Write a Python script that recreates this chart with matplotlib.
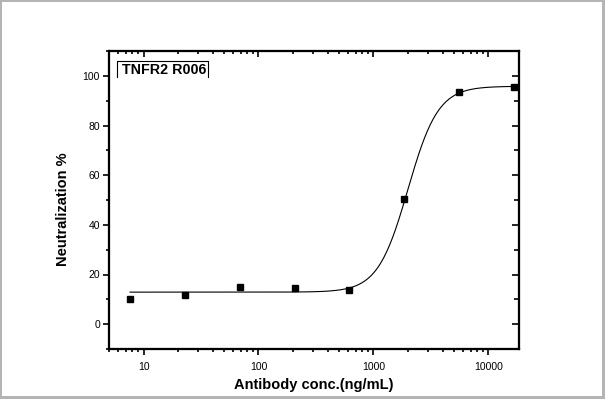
import numpy as np
import matplotlib.pyplot as plt
from matplotlib.patches import Rectangle
from matplotlib.lines import Line2D
from matplotlib.ticker import LogLocator, MultipleLocator, NullFormatter

plt.rcParams['font.family'] = ['Liberation Sans', 'DejaVu Sans']

# measured points (3-fold dilution series)
conc = [7.62, 22.9, 68.6, 206, 617, 1852, 5556, 16667]
neutral = [10.2, 11.7, 14.9, 14.7, 13.9, 50.4, 93.3, 95.7]

# 4PL fit
fit_bottom = 12.9
fit_top = 95.8
fit_ec50 = 2000.0
fit_hill = 3.3

x_ticks = [10, 100, 1000, 10000]
x_tick_labels = ['10', '100', '1000', '10000']
y_ticks = [0, 20, 40, 60, 80, 100]

fig = plt.figure(figsize=(6.05, 3.99), dpi=100)
ax = fig.add_axes([109/605, 1-349/399, 410/605, 298/399])

xc = np.logspace(np.log10(conc[0]), np.log10(conc[-1]), 400)
yc = fit_bottom + (fit_top - fit_bottom) / (1 + (fit_ec50 / xc) ** fit_hill)
ax.plot(xc, yc, color='black', lw=0.8)
ax.plot(conc, neutral, 's', color='black', markersize=4.5)

ax.set_xscale('log')
ax.set_xlim(5, 18500)
ax.set_ylim(-10, 110)
ax.set_xticks(x_ticks)
ax.set_xticklabels(x_tick_labels)
ax.xaxis.set_minor_locator(LogLocator(base=10, subs=np.arange(2, 10)))
ax.xaxis.set_minor_formatter(NullFormatter())
ax.set_yticks(y_ticks)
ax.yaxis.set_minor_locator(MultipleLocator(10))

for s in ax.spines.values():
    s.set_linewidth(1.5)
ax.tick_params(which='major', direction='out', length=4.5, width=1.2,
               labelsize=7.5, top=False, right=False)
ax.tick_params(axis='x', which='major', pad=5)
ax.tick_params(axis='y', which='major', pad=2)
ax.tick_params(which='minor', direction='out', length=2.5, width=1.2,
               top=False, right=False)

# top and right axes with inward ticks
axt = ax.twiny()
axt.set_xscale('log')
axt.set_xlim(ax.get_xlim())
axt.set_xticks(x_ticks)
axt.xaxis.set_minor_locator(LogLocator(base=10, subs=np.arange(2, 10)))
axt.tick_params(which='both', direction='in', labeltop=False, width=1.2)
axt.tick_params(which='major', length=4.5)
axt.tick_params(which='minor', length=2.5)
axt.xaxis.set_minor_formatter(NullFormatter())
axt.xaxis.set_major_formatter(NullFormatter())

axr = ax.twinx()
axr.set_ylim(ax.get_ylim())
axr.set_yticks(y_ticks)
axr.yaxis.set_minor_locator(MultipleLocator(10))
axr.tick_params(which='both', direction='in', labelright=False, width=1.2)
axr.tick_params(which='major', length=5)
axr.tick_params(which='minor', length=3.5)
for a in (axt, axr):
    for s in a.spines.values():
        s.set_linewidth(1.5)

ax.set_xlabel('Antibody conc.(ng/mL)', fontsize=10.5, fontweight='bold', labelpad=4)
ax.set_ylabel('Neutralization %', fontsize=10.5, fontweight='bold')
ax.yaxis.set_label_coords(-0.095, 0.47)

# label box (open at the bottom)
bx = [0.0195, 0.0195, 0.2415, 0.2415]
by = [0.913, 0.966, 0.966, 0.913]
ax.add_line(Line2D(bx, by, transform=ax.transAxes, color='black', lw=0.8))
ax.text(0.031, 0.937, 'TNFR2 R006', transform=ax.transAxes, fontsize=10.3,
        fontweight='bold', va='center', ha='left')

# gray outer frame
g = '#b4b4b4'
W, H = 605, 399
for r in [(0, 0, 2/W, 1), (0, 1-2/H, 1, 2/H), (1-3.5/W, 0, 3.5/W, 1), (0, 0, 1, 3.5/H)]:
    fig.add_artist(Rectangle(r[:2], r[2], r[3], transform=fig.transFigure,
                             color=g, lw=0))

fig.savefig('out.png', dpi=100)
